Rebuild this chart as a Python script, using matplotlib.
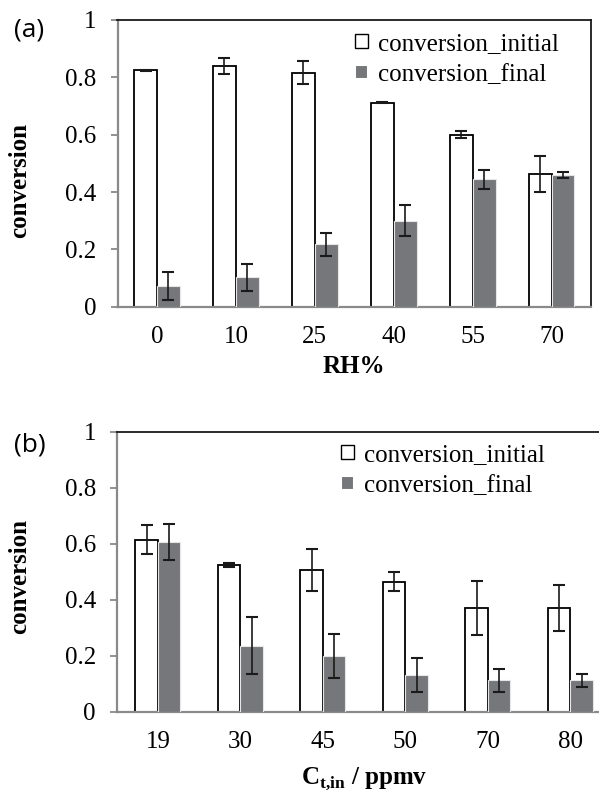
import numpy as np
import matplotlib
matplotlib.use("Agg")
import matplotlib.pyplot as plt
from matplotlib.patches import Patch

plt.rcParams['font.family'] = ['Liberation Serif', 'DejaVu Serif']
plt.rcParams['mathtext.fontset'] = 'custom'
plt.rcParams['mathtext.rm'] = 'Liberation Serif'
plt.rcParams['mathtext.bf'] = 'Liberation Serif:bold'

# panel (a): RH%
rh_labels = ['0', '10', '25', '40', '55', '70']
rh_initial = [0.824, 0.841, 0.816, 0.712, 0.600, 0.463]
rh_initial_err = [0.003, 0.028, 0.040, 0.003, 0.012, 0.062]
rh_final = [0.071, 0.103, 0.217, 0.300, 0.444, 0.459]
rh_final_err = [0.049, 0.047, 0.041, 0.053, 0.032, 0.011]

# panel (b): inlet concentration
ct_labels = ['19', '30', '45', '50', '70', '80']
ct_initial = [0.615, 0.525, 0.506, 0.465, 0.371, 0.371]
ct_initial_err = [0.052, 0.007, 0.075, 0.033, 0.097, 0.082]
ct_final = [0.606, 0.236, 0.199, 0.131, 0.112, 0.112]
ct_final_err = [0.065, 0.103, 0.078, 0.060, 0.042, 0.023]

GRAY = '#76777b'
AXGRAY = '#8a8a8a'
W, H = 599, 795

fig = plt.figure(figsize=(W / 100, H / 100), dpi=100)


def panel(rect, labels, ini, ini_err, fin, fin_err, bw, xlabel, xlpad, tag, tagy, ylaby, legxy):
    ax = fig.add_axes(rect)
    x = np.arange(len(labels))
    ax.bar(x - bw / 2, ini, bw, color='white', edgecolor='black', linewidth=1.3, zorder=2)
    ax.bar(x + bw / 2, fin, bw, color=GRAY, edgecolor='#e6e6e6', linewidth=0.8, zorder=3)
    ax.errorbar(x - bw / 2, ini, yerr=ini_err, fmt='none', ecolor='#1a1a1a',
                elinewidth=1.2, capsize=4.3, capthick=1.5, zorder=4)
    ax.errorbar(x + bw / 2, fin, yerr=fin_err, fmt='none', ecolor='#1a1a1a',
                elinewidth=1.2, capsize=4.3, capthick=1.5, zorder=4)
    ax.set_xlim(-0.5, len(labels) - 0.5)
    ax.set_ylim(0, 1)
    ax.set_yticks([0, 0.2, 0.4, 0.6, 0.8, 1.0])
    ax.set_yticklabels(['0', '0.2', '0.4', '0.6', '0.8', '1'])
    ax.set_xticks(x)
    ax.set_xticklabels(labels)
    ax.tick_params(axis='y', length=5, width=1.3, color=AXGRAY, pad=10, labelsize=18)
    ax.tick_params(axis='x', length=0, pad=14, labelsize=18)
    for s in ['left', 'bottom']:
        ax.spines[s].set_color(AXGRAY)
        ax.spines[s].set_linewidth(1.6)
    for s in ['top', 'right']:
        ax.spines[s].set_color('#1a1a1a')
        ax.spines[s].set_linewidth(1.3)
    ax.set_xlabel(xlabel, fontsize=18, fontweight='bold', labelpad=xlpad)
    fig.text(20 / W, 1 - ylaby / H, 'conversion', fontsize=18, fontweight='bold',
             rotation=90, ha='center', va='center')
    fig.text(14 / W, 1 - tagy / H, tag, fontsize=19, family=['Open Sans', 'DejaVu Sans'],
             va='center', ha='left')
    handles = [Patch(facecolor='white', edgecolor='black', linewidth=1.0),
               Patch(facecolor=GRAY, edgecolor='white', linewidth=1.5)]
    fig.legend(handles, ['conversion_initial', 'conversion_final'], loc='upper left',
               bbox_to_anchor=(legxy[0] / W, 1 - legxy[1] / H), frameon=False,
               fontsize=18, handlelength=0.52, handleheight=0.52, handletextpad=0.4,
               labelspacing=0.35, borderpad=0, borderaxespad=0)
    return ax


panel([117.5 / W, 1 - 306.7 / H, 473.5 / W, 286.7 / H], rh_labels, rh_initial,
      rh_initial_err, rh_final, rh_final_err, 0.29, 'RH%', 5, '(a)', 30, 180, (355, 33))
panel([116.7 / W, 1 - 711.7 / H, 495 / W, 280 / H], ct_labels, ct_initial,
      ct_initial_err, ct_final, ct_final_err, 0.273,
      r'$\mathbf{C}_{\mathbf{t{,}in}}$ / ppmv', 9, '(b)', 445, 577, (341, 444))

fig.savefig('out.png', dpi=100)
